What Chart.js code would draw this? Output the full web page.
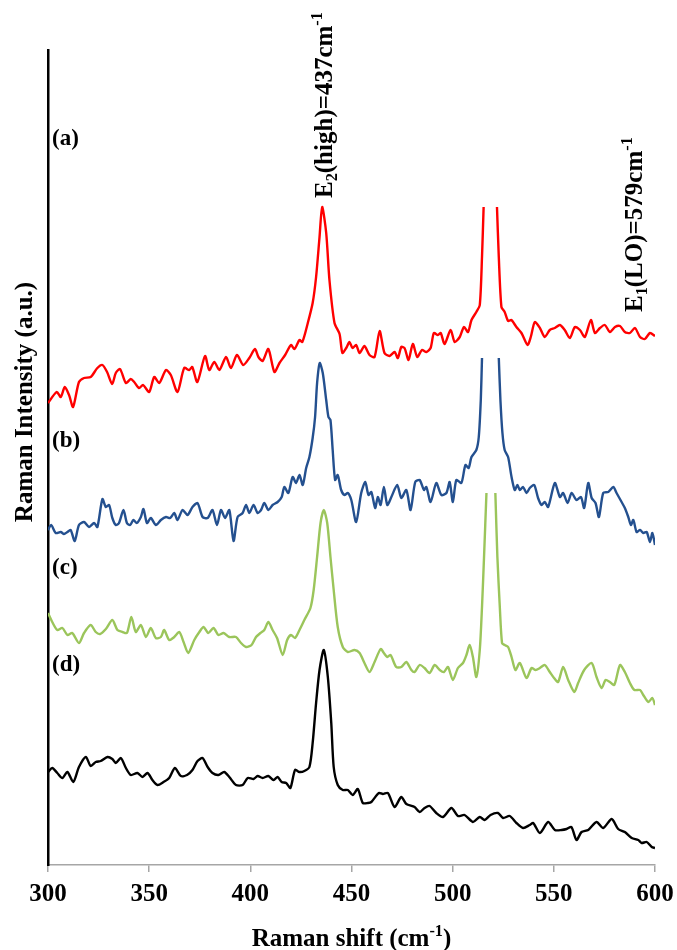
<!DOCTYPE html>
<html>
<head>
<meta charset="utf-8">
<script src="https://cdn.jsdelivr.net/npm/chart.js@4.4.1/dist/chart.umd.min.js"></script>
<style>
  html, body { margin: 0; padding: 0; background: #fff; }
  #wrap { width: 677px; height: 950px; position: relative; }
</style>
</head>
<body>
<div id="wrap"><canvas id="raman"></canvas></div>
<script>
// Raman spectra, intensities are stacked offsets in arbitrary units
const shiftA = [300,304.3,306.3,308.3,310.4,312.4,315.3,317.8,321.1,324.4,326.9,329.2,331.7,333.5,335.6,338.5,340.9,342.6,345,347,350,352.5,355,358.3,360.7,364,367.3,369.8,371.3,373.8,377.6,379.7,382.2,384.7,388,390.4,393.4,396.5,399.5,402.3,404,406.1,408.9,411.9,414.4,417.2,420.1,421.8,424.3,425.7,428.4,430.8,432.5,434.2,435.5,437.5,439.1,441.6,444.1,445.5,447.4,449,450.5,452.3,454,456.4,458.9,461.4,463.9,466.3,468.8,471.3,472.9,474.6,476.2,478.2,480.3,482.5,484.8,487,489.1,490.7,492.7,494.1,496,499,501,503.5,505.6,507.6,509.3,511.7,513.4,514.5,515.3,518.5,521.9,522.8,524.1,525.7,527.4,529,531.5,534,537,538.6,540.6,543.1,545.5,548,550.5,553,555.4,557.9,560.4,562.9,565.3,568.3,570.3,572.8,575.2,577.7,580.2,582.7,585.1,587.6,590.1,592.6,595,597.5,600];
const intensityA = [462,473,468,478,470,458,483,487,488,497,500,493,481,492,496,482,486,483,477,480,473,488,482,495,490,473,497,495,498,483,509,495,503,495,508,497,510,500,507,516,508,504,516,493,502,510,520,516,525,523,542,562,588,628,658,632,585,542,531,512,517,523,517,520,512,519,510,508,534,512,509,513,507,518,517,505,521,508,515,513,517,532,530,532,521,535,523,528,538,533,545,553,560,608,658,null,658,608,558,553,544,545,538,532,520,528,543,537,528,535,537,540,535,527,538,535,528,545,532,537,540,533,538,539,533,532,537,528,526,532,529];

const shiftB = [300,301.6,303.8,306.3,307.9,309.6,311.2,313.2,315.3,317.8,320.3,322.8,324.4,326.9,328.6,330.2,331.8,333.5,335.1,337.3,339,340.6,342.2,343.9,345.9,347.2,348.9,350.8,353.3,355.8,358.3,360.4,362.4,364,366.5,369,371.4,373.9,376.4,378.9,381.3,383.5,385.5,387.5,389.6,391.7,393.7,396.2,397.9,399.5,401.6,403.6,405.3,406.9,408.9,411,413.5,415.5,416.8,418.8,420.9,422.6,424.3,425.9,427.6,429.2,430.8,432,433,434.3,435.8,437.5,438.6,439.6,440.7,441.9,443.2,444.9,446.5,448.2,449.9,452.3,454.8,456.8,458.4,459.8,461.7,463,464.4,466,467.7,469.7,472.6,474.6,477.1,479.2,481.5,483.7,485.8,487,489.1,491.9,494.4,496.9,498.5,500.1,501.8,504.3,506.3,507.9,509.3,511.7,512.9,513.9,514.5,518.6,522.8,523.6,524.6,525.7,527.4,529.1,530.7,532,533.2,534.8,536.5,538.1,540.3,542.2,543.9,545.5,547.2,550.5,553,554.6,556.8,558.8,561.2,563.4,565,567,568.7,570.6,572.3,574.4,576.9,579.4,581,583.5,585.1,586.8,588.1,589.3,590.9,592.6,594.2,595.9,597.5,598.7,600];
const intensityB = [335,340,332,333,331,333,335,324,340,343,338,342,338,366,358,360,347,340,342,355,342,340,345,342,348,356,342,347,340,345,348,347,352,345,355,350,358,362,348,347,355,340,355,347,355,324,348,352,360,352,360,352,355,362,355,360,363,368,378,372,388,382,390,380,397,408,427,448,482,502,492,465,448,445,415,385,390,375,370,372,365,343,372,383,370,373,357,368,360,378,360,368,380,367,375,355,383,385,375,378,363,382,370,372,383,363,385,382,400,397,408,415,428,465,507,null,507,465,432,415,408,388,375,380,375,378,372,377,380,367,360,363,358,382,368,372,362,372,365,368,357,382,367,362,348,372,373,378,372,363,357,348,340,345,333,335,332,333,323,332,320];

const shiftC = [300,302.1,304.6,307.1,309.6,312,315.3,317.8,321.1,323.6,325.7,328.6,331.8,334.3,336.8,339,341.2,343.4,345.9,348.4,350.8,353.3,355.8,357.4,359.9,362.4,364.9,367,369.3,372.3,374.8,376.9,379.2,381.8,384.2,386.8,389.6,392.9,395.4,397.9,400.6,402.8,405,406.9,408.9,411,413.2,416,418.2,420.1,422.1,424.3,426.7,429.7,431.3,433,434.7,436.3,438,439.6,441.2,443.2,445.7,448.2,451.5,454,456.4,458.9,461.4,464.4,466,467.7,469.3,472.1,474.6,477.1,479.6,481.2,483.7,486.1,488.6,491.1,493.6,495.7,497.7,500.1,502.6,505.1,506.8,508.4,510,511.7,513.4,514.5,515.5,516.7,519,521.1,522.1,523.3,524.4,525.7,527.4,529.1,531,533.2,536.5,539,541,543.1,545.5,548,550.1,552.1,554.6,557.1,560.1,562,565,568.7,571.1,573.6,575.6,577.7,579.9,582.7,585.1,587.6,589.8,592.6,594.2,596.7,598.7,600];
const intensityC = [252,243,235,237,230,232,222,232,240,233,231,236,245,235,233,232,248,233,240,228,237,227,228,235,225,228,233,223,212,225,233,238,232,237,230,232,228,228,222,218,220,228,232,235,243,235,227,210,225,230,227,235,245,257,275,308,342,355,342,308,275,238,218,213,215,212,202,193,203,216,212,208,210,198,198,203,195,193,200,197,192,200,195,193,198,185,197,202,210,220,208,188,215,258,308,372,null,372,308,258,222,220,218,208,195,202,187,197,195,197,200,193,187,183,198,185,173,182,195,202,188,177,185,183,180,200,193,182,175,175,170,163,167,160];

const shiftD = [300,302.1,304.6,307.1,309.6,312.5,315.3,318.7,321.1,323.6,326.1,329.4,331.8,333.5,336,338.5,340.9,344.2,346.7,349.2,351.6,354.1,357.1,359.9,362.7,365.7,368.7,371.4,373.9,376.4,378.9,381.3,384.2,387.1,389.6,392.9,396.2,398.7,401.6,403.6,406.1,408.9,411.5,413.5,415.5,417.7,419.8,422.1,424.3,426.7,429.2,430.8,432.5,434.2,436.3,438.3,440,441.2,443.2,445.7,448.2,450.6,453.1,455.6,458.1,459.8,463.5,465.5,468,471.3,474.6,477.1,481.2,483.7,486.1,488.6,491.9,495.2,499.4,502.6,505.9,510,513.4,515.8,518.7,522.4,524.9,528.2,531.5,534.8,538.1,539.8,543.1,547.2,550.5,553.8,556.3,558.7,561.2,563.7,567,571.1,574.4,578.6,581.8,585.1,588.5,591.7,593.4,595.9,598.4,600];
const intensityD = [93,97,92,87,93,83,98,108,99,103,104,108,106,102,107,97,90,92,88,92,85,80,83,87,97,89,90,95,104,107,98,92,90,93,88,80,80,87,86,89,87,89,85,88,83,82,77,95,93,94,98,122,162,195,215,188,142,98,80,75,75,70,76,62,62,63,72,71,72,58,68,61,58,53,57,59,52,48,57,49,50,43,48,45,50,52,47,49,42,37,40,42,32,43,35,35,36,38,25,33,35,43,37,46,36,33,27,25,22,23,18,17];

const xTicks = [300, 350, 400, 450, 500, 550, 600];
const sampleLabels = ["(a)", "(b)", "(c)", "(d)"];

function toPoints(xs, ys) {
  return xs.map((v, i) => ({ x: v, y: ys[i] }));
}

const serif = '"Liberation Serif", "Times New Roman", serif';

// draws text parts with sub/superscripts starting at the origin, returns width
function drawRich(ctx, parts, size, measureOnly) {
  let x = 0;
  parts.forEach(p => {
    const s = (p.sub || p.sup) ? size * 0.65 : size;
    ctx.font = `bold ${s}px ${serif}`;
    const dy = p.sub ? size * 0.2 : p.sup ? -size * 0.42 : 0;
    if (!measureOnly) ctx.fillText(p.t, x, dy);
    x += ctx.measureText(p.t).width;
  });
  return x;
}

const textPlugin = {
  id: "ramanText",
  afterDraw(chart) {
    const { ctx, chartArea, scales } = chart;
    const xs = scales.x, ys = scales.y;
    ctx.save();
    ctx.fillStyle = "#000";
    ctx.textAlign = "left";
    ctx.textBaseline = "alphabetic";

    // x axis title
    const xTitle = [{ t: "Raman shift (cm" }, { t: "-1", sup: true }, { t: ")" }];
    const xw = drawRich(ctx, xTitle, 25, true);
    ctx.save();
    ctx.translate((chartArea.left + chartArea.right) / 2 - xw / 2, 946);
    drawRich(ctx, xTitle, 25);
    ctx.restore();

    // y axis title
    const yTitle = [{ t: "Raman Intensity (a.u.)" }];
    const yw = drawRich(ctx, yTitle, 25, true);
    ctx.save();
    ctx.translate(32, 402 + yw / 2);
    ctx.rotate(-Math.PI / 2);
    drawRich(ctx, yTitle, 25);
    ctx.restore();

    // sample labels
    const labelAnchors = [726, 424, 297, 200];
    ctx.textBaseline = "middle";
    ctx.font = `bold 23px ${serif}`;
    sampleLabels.forEach((lab, i) => {
      ctx.fillText(lab, xs.getPixelForValue(302), ys.getPixelForValue(labelAnchors[i]));
    });
    ctx.textBaseline = "alphabetic";

    // mode annotations, rotated
    const modes = [
      { at: [440.6, 667], parts: [{ t: "E" }, { t: "2", sub: true }, { t: "(high)=437cm" }, { t: "-1", sup: true }] },
      { at: [593.6, 553], parts: [{ t: "E" }, { t: "1", sub: true }, { t: "(LO)=579cm" }, { t: "-1", sup: true }] }
    ];
    modes.forEach(m => {
      ctx.save();
      ctx.translate(xs.getPixelForValue(m.at[0]), ys.getPixelForValue(m.at[1]));
      ctx.rotate(-Math.PI / 2);
      drawRich(ctx, m.parts, 25);
      ctx.restore();
    });
    ctx.restore();
  }
};

const lineStyle = { pointRadius: 0, borderWidth: 2.4, tension: 0.25, spanGaps: false, fill: false };

new Chart(document.getElementById("raman"), {
  type: "line",
  data: {
    datasets: [
      { label: sampleLabels[0], data: toPoints(shiftA, intensityA), borderColor: "#ff0000", ...lineStyle },
      { label: sampleLabels[1], data: toPoints(shiftB, intensityB), borderColor: "#24508f", ...lineStyle },
      { label: sampleLabels[2], data: toPoints(shiftC, intensityC), borderColor: "#9bc55b", ...lineStyle },
      { label: sampleLabels[3], data: toPoints(shiftD, intensityD), borderColor: "#000000", ...lineStyle }
    ]
  },
  options: {
    responsive: true,
    maintainAspectRatio: false,
    animation: false,
    layout: { padding: { top: 50, right: 22, left: 0, bottom: 0 } },
    plugins: { legend: { display: false }, tooltip: { enabled: false } },
    scales: {
      x: {
        type: "linear",
        min: 300,
        max: 600,
        afterBuildTicks: (axis) => { axis.ticks = xTicks.map(v => ({ value: v })); },
        afterFit: (axis) => { axis.height = 85; axis.paddingLeft = 0; axis.paddingRight = 0; },
        grid: { drawOnChartArea: false, drawTicks: true, tickLength: 7, color: "#a6a6a6", lineWidth: 1.5 },
        border: { display: true, color: "#a6a6a6", width: 1.5 },
        ticks: { color: "#000", padding: 8, maxRotation: 0, font: { family: serif, size: 25, weight: "bold" } }
      },
      y: {
        min: 0,
        max: 815,
        afterFit: (axis) => { axis.width = 48; },
        grid: { display: true, drawOnChartArea: false, drawTicks: false },
        border: { display: true, color: "#000", width: 2.5 },
        ticks: { display: false }
      }
    }
  },
  plugins: [textPlugin]
});
</script>
</body>
</html>
